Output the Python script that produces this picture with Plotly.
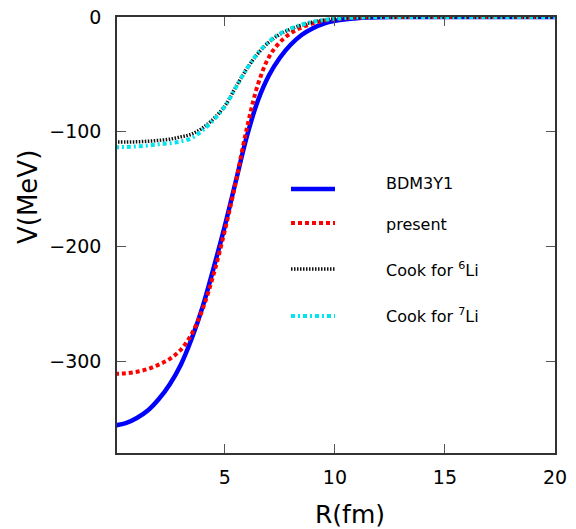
import plotly.graph_objects as go

# ---- data ----
R = [0, 0.5, 1, 1.5, 2, 2.5, 3, 3.5, 4, 4.5, 5, 5.5, 6, 6.5, 7, 7.5, 8, 8.5, 9, 9.5,
     10, 10.5, 11, 11.5, 12, 13, 14, 16, 18, 20]

V_bdm = [-356, -354, -349.5, -343, -333, -320, -303, -280, -252, -218, -182, -143, -104,
         -73, -51, -35.5, -24, -15.5, -9.8, -5.8, -3.4, -1.9, -1.0, -0.5, -0.25, -0.05, 0, 0, 0, 0]

V_pre = [-311, -310.5, -309.2, -306.8, -303, -298, -290, -276, -254, -223.5, -186, -143.5, -97,
         -59, -35, -22, -14, -9, -5.5, -3.2, -1.8, -1.0, -0.5, -0.25, -0.1, 0, 0, 0, 0, 0]

V_li6 = [-109, -109, -108.8, -108.3, -107.5, -106.5, -104.5, -102, -96.5, -88.5, -77.5, -61,
         -45, -32, -22, -15, -10.5, -7, -4.4, -2.7, -1.6, -0.9, -0.5, -0.25, -0.1, 0, 0, 0, 0, 0]

V_li7 = [-113.5, -113.3, -112.8, -112, -111, -110, -108.5, -105.5, -98.5, -89.5, -78, -61.5,
         -45, -31.5, -21.5, -14.5, -10, -6.6, -4.2, -2.6, -1.5, -0.9, -0.5, -0.25, -0.1, 0, 0, 0, 0, 0]

names = ["BDM3Y1", "present", "Cook for <sup>6</sup>Li", "Cook for <sup>7</sup>Li"]
x_ticks = [5, 10, 15, 20]
y_ticks = [0, -100, -200, -300]

styles = [
    dict(color="#0000ff", width=4.5, dash="solid"),
    dict(color="#ff0000", width=4, dash="4px,3px"),
    dict(color="#111111", width=3.5, dash="1.5px,1.5px"),
    dict(color="#00e5ee", width=4, dash="4px,3px,2px,3px"),
]

FONT = "DejaVu Sans"
fig = go.Figure()
series = [V_bdm, V_pre, V_li6, V_li7]
for vy, nm, st in zip(series, names, styles):
    fig.add_trace(go.Scatter(x=R, y=vy, mode="lines", name=nm,
                             line=dict(shape="spline", smoothing=1.0, **st),
                             showlegend=False))

# manual legend (paper coordinates)
W, H, L, B = 438, 436, 117, 453
def px(x): return (x - L) / W
def py(y): return (B - y) / H
line_y = [189, 223, 269, 316]
text_y = [183, 224, 269, 315]
shapes, annots = [], []
for nm, st, ly, ty in zip(names, styles, line_y, text_y):
    shapes.append(dict(type="line", xref="paper", yref="paper",
                       x0=px(291), x1=px(335), y0=py(ly), y1=py(ly),
                       line=dict(color=st["color"], width=st["width"], dash=st["dash"])))
    annots.append(dict(text=nm, xref="paper", yref="paper", x=px(384), y=py(ty),
                       xanchor="left", yanchor="middle", showarrow=False,
                       font=dict(family=FONT, size=16, color="black")))

annots.append(dict(text="V(MeV)", xref="paper", yref="paper", x=px(28), y=py(197),
                   xanchor="center", yanchor="middle", textangle=-90, showarrow=False,
                   font=dict(family=FONT, size=26, color="black")))
annots.append(dict(text="R(fm)", xref="paper", yref="paper", x=px(350), y=py(514),
                   xanchor="center", yanchor="middle", showarrow=False,
                   font=dict(family=FONT, size=25, color="black")))

axis_common = dict(showline=True, mirror="ticks", linecolor="#333333", linewidth=1.5,
                   ticks="inside", ticklen=9, tickwidth=1, tickcolor="#555555",
                   showgrid=False, zeroline=False, automargin=False,
                   tickfont=dict(family=FONT, size=19, color="black"))

fig.update_layout(
    width=576, height=529,
    margin=dict(l=117, r=21, t=17, b=76),
    paper_bgcolor="white", plot_bgcolor="white",
    xaxis=dict(range=[0.1, 20], tickvals=x_ticks, ticklabelstandoff=6, **axis_common),
    yaxis=dict(range=[-380, 0], tickvals=y_ticks, ticklabelstandoff=10, **axis_common),
    shapes=shapes, annotations=annots,
    font=dict(family=FONT, color="black"),
)

fig.write_html("out.html", config={"displayModeBar": False},
               post_script="document.body.style.margin='0';")
